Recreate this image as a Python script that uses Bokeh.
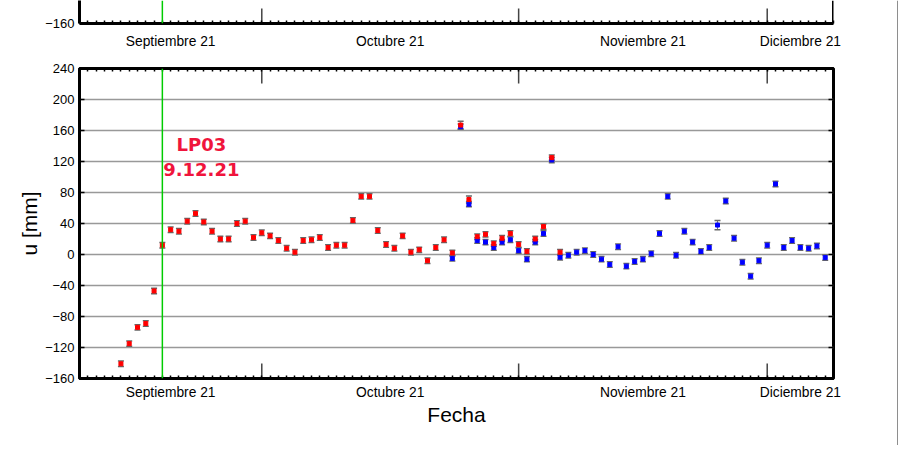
import pandas as pd
from bokeh.plotting import figure
from bokeh.layouts import column, row
from bokeh.models import (Range1d, FixedTicker, DatetimeAxis, Span,
                          Whisker, TeeHead, ColumnDataSource, Label)
from bokeh.embed import file_html
from bokeh.resources import INLINE

# ---------------- data ----------------
first_day = "2021-09-14"
n_days = 86
red_u = [-141, -115, -94, -89, -47, 12, 32, 30, 43, 53,
         42, 30, 20, 20, 40, 43, 22, 28, 24, 18,
         8, 3, 18, 19, 22, 9, 12, 12, 44, 75,
         75, 31, 13, 8, 24, 3, 6, -8, 9, 19,
         2, 167, 71, 23, 26, 14, 21, 27, 13, 4,
         20, 36, 125, 3]
red_err = [3.5, 3.5, 3.5, 3.5, 3.5, 3.5, 3.5, 3.5, 3.5, 3.5,
           3.5, 3.5, 3.5, 3.5, 3.5, 3.5, 3.5, 3.5, 3.5, 3.5,
           3.5, 3.5, 3.5, 3.5, 3.5, 3.5, 3.5, 3.5, 3.5, 3.5,
           3.5, 3.5, 3.5, 3.5, 3.5, 3.5, 3.5, 3.5, 3.5, 3.5,
           3.5, 5, 4.5, 3.5, 3.5, 3.5, 3.5, 3.5, 3.5, 3.5,
           3.5, 3.5, 3.5, 3.5]
blue_u = [-5, 165, 65, 18, 16, 9, 16, 19, 5, -6,
          16, 27, 122, -3.5, -1, 3, 5, 0, -6, -13,
          10, -15, -9, -6, 1, 27, 75, -1, 30, 16,
          4, 9, 38, 69, 21, -10, -28, -8, 12, 91,
          9, 18, 9, 8, 11, -4]
blue_err = [3.5, 3.5, 3.5, 3.5, 3.5, 3.5, 3.5, 3.5, 3.5, 3.5,
            3.5, 3.5, 3.5, 3.5, 3.5, 3.5, 3.5, 3.5, 3.5, 3.5,
            3.5, 3.5, 3.5, 3.5, 3.5, 3.5, 3.5, 3.5, 3.5, 3.5,
            3.5, 3.5, 6, 3.5, 3.5, 3.5, 3.5, 3.5, 3.5, 3.5,
            3.5, 3.5, 3.5, 3.5, 3.5, 3.5]
blue_first_index = 40
event_date = "2021-09-19"
event_text = ["LP03", "9.12.21"]
x_start, x_end = "2021-09-09", "2021-12-09"
month_starts = ["2021-10-01", "2021-11-01", "2021-12-01"]
month_labels = ["Septiembre 21", "Octubre 21", "Noviembre 21", "Diciembre 21"]
y_ticks = [-160, -120, -80, -40, 0, 40, 80, 120, 160, 200, 240]
y_min, y_max = -160, 240

FONT = "Liberation Sans"


def ms(t):
    return int(pd.Timestamp(t).value // 10**6)


dates = pd.date_range(first_day, periods=n_days, freq="D")
red_dates = dates[:len(red_u)]
blue_dates = dates[blue_first_index:blue_first_index + len(blue_u)]

bounds = [ms(x_start)] + [ms(m) for m in month_starts] + [ms(x_end)]
mids = [(bounds[i] + bounds[i + 1]) // 2 for i in range(len(bounds) - 1)]
day_ticks = [ms(d) for d in pd.date_range(x_start, x_end, freq="D")]
label_over = {m: lab for m, lab in zip(mids, month_labels)}
y_over = {t: str(t).replace("-", "\u2212") for t in y_ticks}
mx = [ms(m) for m in month_starts]

x_range = Range1d(ms(x_start), ms(x_end))
LEFT, RIGHT = 79, 57
FRAME_W = 754
W = LEFT + FRAME_W + RIGHT
PX_PER_U = 310.0 / (y_max - y_min)
tick_len = 15 / PX_PER_U
TOP_H, MAIN_H = 58, 387


def style_bottom_axis(ax):
    ax.ticker = FixedTicker(ticks=mids, minor_ticks=day_ticks)
    ax.major_label_overrides = label_over
    ax.major_tick_in = 0
    ax.major_tick_out = 0
    ax.minor_tick_in = 3
    ax.minor_tick_out = 0
    ax.minor_tick_line_color = "black"
    ax.minor_tick_line_width = 1.5
    ax.axis_line_width = 3
    ax.axis_line_color = "black"
    ax.major_label_text_font = FONT
    ax.major_label_text_font_size = "13.8px"
    ax.major_label_text_color = "black"


def style_y_axis(ax, ticks):
    ax.ticker = FixedTicker(ticks=ticks)
    ax.major_label_overrides = y_over
    ax.major_tick_in = 5
    ax.major_tick_out = 0
    ax.major_tick_line_width = 1.5
    ax.minor_tick_line_color = None
    ax.axis_line_width = 3
    ax.axis_line_color = "black"
    ax.major_label_text_font = FONT
    ax.major_label_text_font_size = "13px"
    ax.major_label_text_color = "black"
    ax.major_label_standoff = 5


# ---------------- top panel (fragment) ----------------
top_h = TOP_H - 35
top = figure(width=W, height=TOP_H, x_range=x_range,
             y_range=Range1d(y_min, y_min + top_h / PX_PER_U),
             x_axis_type="datetime", output_backend="svg", toolbar_location=None,
             min_border_left=LEFT, min_border_right=RIGHT, min_border_top=0,
             min_border_bottom=35, outline_line_color=None)
top.grid.visible = False
style_bottom_axis(top.xaxis[0])
top.xaxis[0].major_label_standoff = 10
style_y_axis(top.yaxis[0], [y_min])
top.segment(x0=mx, x1=mx, y0=y_min, y1=y_min + tick_len, line_color="#444444", line_width=1.5)
top.scatter(x=[ms(x_end)], y=[y_min], marker="dash", size=10, line_color="black", line_width=1.5)
top.add_layout(Span(location=ms(x_end), dimension="height", line_color="black", line_width=3))
top.add_layout(Span(location=ms(event_date), dimension="height",
                    line_color="#00cc00", line_width=1.5))

# ---------------- main panel ----------------
p = figure(width=W, height=MAIN_H, x_range=x_range, y_range=Range1d(y_min, y_max),
           x_axis_type="datetime", output_backend="svg", toolbar_location=None,
           min_border_left=LEFT, min_border_right=RIGHT, min_border_top=10,
           min_border_bottom=67, outline_line_color="black", outline_line_width=3)
p.xgrid.visible = False
p.ygrid.ticker = FixedTicker(ticks=y_ticks)
p.ygrid.grid_line_color = "#999999"
p.ygrid.grid_line_width = 1.5

style_bottom_axis(p.xaxis[0])
p.xaxis[0].major_label_standoff = 6
p.xaxis[0].axis_label = "Fecha"
p.xaxis[0].axis_label_text_font = FONT
p.xaxis[0].axis_label_text_font_size = "21px"
p.xaxis[0].axis_label_text_font_style = "normal"
p.xaxis[0].axis_label_text_color = "black"
p.xaxis[0].axis_label_standoff = 0

above = DatetimeAxis(ticker=FixedTicker(ticks=[], minor_ticks=day_ticks),
                     major_label_standoff=0,
                     major_tick_in=0, major_tick_out=0, minor_tick_in=3, minor_tick_out=0,
                     minor_tick_line_width=1.5, axis_line_width=3, axis_line_color="black")
p.add_layout(above, "above")

ya = p.yaxis[0]
style_y_axis(ya, y_ticks)
ya.axis_label = "u [mm]"
ya.axis_label_text_font = FONT
ya.axis_label_text_font_size = "21px"
ya.axis_label_text_font_style = "normal"
ya.axis_label_text_color = "black"
ya.axis_label_standoff = 1

# right-hand inward tick marks and month-boundary ticks
p.scatter(x=[ms(x_end)] * len(y_ticks), y=y_ticks, marker="dash", size=10,
          line_color="black", line_width=1.5)
p.segment(x0=mx, x1=mx, y0=y_min, y1=y_min + tick_len, line_color="#444444", line_width=1.5)
p.segment(x0=mx, x1=mx, y0=y_max, y1=y_max - tick_len, line_color="#444444", line_width=1.5)

blue_src = ColumnDataSource(dict(x=blue_dates, u=blue_u,
                                 lo=[v - e for v, e in zip(blue_u, blue_err)],
                                 hi=[v + e for v, e in zip(blue_u, blue_err)]))
red_src = ColumnDataSource(dict(x=red_dates, u=red_u,
                                lo=[v - e for v, e in zip(red_u, red_err)],
                                hi=[v + e for v, e in zip(red_u, red_err)]))

for src, col in ((blue_src, "#0000ff"), (red_src, "#ff0000")):
    wk = Whisker(source=src, base="x", upper="hi", lower="lo", dimension="height",
                 line_color="#777777", line_width=1,
                 upper_head=TeeHead(size=6, line_color="#666666", line_width=1.5),
                 lower_head=TeeHead(size=6, line_color="#666666", line_width=1.5))
    p.add_layout(wk)
    p.scatter(x="x", y="u", source=src, marker="square", size=4,
              fill_color=col, line_color=col)

p.add_layout(Span(location=ms(event_date), dimension="height",
                  line_color="#00cc00", line_width=1.5))
for txt, yv in zip(event_text, [142, 110]):
    p.add_layout(Label(x=ms(event_date), y=yv, x_offset=39, text=txt,
                       text_align="center", text_baseline="middle",
                       text_font="DejaVu Sans", text_font_style="bold",
                       text_font_size="18px", text_color="#f0143c"))

# thin page frame line on the right edge of the picture
EDGE_H = TOP_H + MAIN_H
edge = figure(frame_width=8, frame_height=EDGE_H, width=8, height=EDGE_H,
              min_width=8, min_height=EDGE_H,
              x_range=Range1d(0, 8), y_range=Range1d(0, 1),
              output_backend="svg", toolbar_location=None, min_border=0, title=None,
              outline_line_color=None)
edge.axis.visible = False
edge.grid.visible = False
edge.segment(x0=[7.5], x1=[7.5], y0=[0], y1=[1], line_color="#444444", line_width=1.2)

layout = row(column(top, p, spacing=0), edge, spacing=0)
open("out.html", "w").write(file_html(layout, INLINE))
